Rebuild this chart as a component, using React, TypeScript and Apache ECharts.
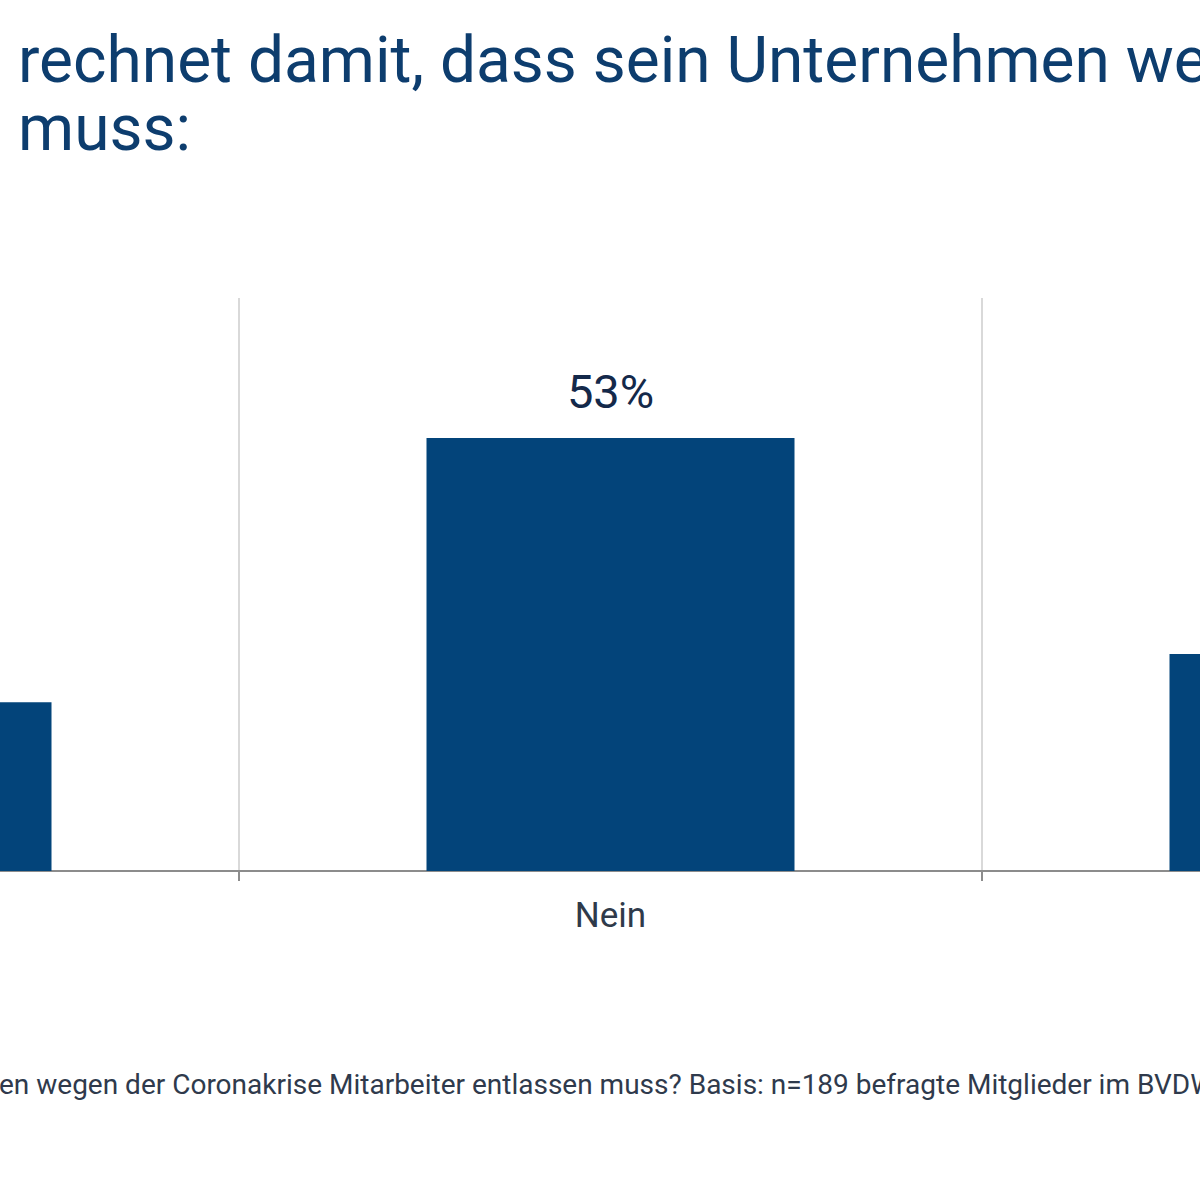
import React, { useEffect, useRef } from "react";
import * as echarts from "echarts";

const categories = ["Ja", "Nein", "Weiß nicht"];
const values = [20.6, 52.9, 26.5];
const yMax = 70;
const titleLines = [
  "rechnet damit, dass sein Unternehmen wegen der Coronakrise Mitarbeiter entlassen",
  "muss:",
];
const footnote =
  "en wegen der Coronakrise Mitarbeiter entlassen muss? Basis: n=189 befragte Mitglieder im BVDW";

const OFFSET = 600; // chart is wider than the viewport; page x = chart x - OFFSET

export default function App() {
  const ref = useRef<HTMLDivElement>(null);
  useEffect(() => {
    if (!ref.current) return;
    const chart = echarts.init(ref.current, undefined, { renderer: "svg" });
    chart.setOption({
      animation: false,
      backgroundColor: "#ffffff",
      textStyle: { fontFamily: "Roboto" },
      grid: { left: 96, right: 75, top: 298, bottom: 1200 - 871 },
      xAxis: {
        type: "category",
        data: categories,
        axisLine: { show: true, lineStyle: { color: "#8c8c8c", width: 2 } },
        axisTick: { show: true, length: 10, lineStyle: { color: "#8c8c8c", width: 2 } },
        splitLine: { show: true, lineStyle: { color: "#d9d9d9", width: 2 } },
        axisLabel: { color: "#2f3a4a", fontSize: 35, margin: 27, fontFamily: "Roboto" },
      },
      yAxis: {
        type: "value",
        min: 0,
        max: yMax,
        show: false,
        splitLine: { show: false },
      },
      series: [
        {
          type: "bar",
          data: values,
          barWidth: 368,
          itemStyle: { color: "#03447a" },
          label: {
            show: true,
            position: "top",
            distance: 23,
            color: "#14294a",
            fontSize: 47,
            fontFamily: "Roboto",
            formatter: (p: any) => Math.round(p.value) + "%",
          },
        },
      ],
      graphic: [
        {
          type: "text",
          left: OFFSET + 18,
          top: 28,
          style: { text: titleLines[0], fill: "#0d3d6e", font: "64px Roboto" },
        },
        {
          type: "text",
          left: OFFSET + 18,
          top: 96,
          style: { text: titleLines[1], fill: "#0d3d6e", font: "64px Roboto" },
        },
        {
          type: "text",
          left: OFFSET - 1,
          top: 1070,
          style: { text: footnote, fill: "#2f3a4c", font: "28px Roboto" },
        },
      ],
    });
    return () => chart.dispose();
  }, []);
  return (
    <div
      style={{
        position: "fixed",
        left: 0,
        top: 0,
        width: 1200,
        height: 1200,
        overflow: "hidden",
        background: "#fff",
      }}
    >
      <div
        ref={ref}
        style={{ position: "absolute", left: -OFFSET, top: 0, width: 2400, height: 1200 }}
      />
    </div>
  );
}
